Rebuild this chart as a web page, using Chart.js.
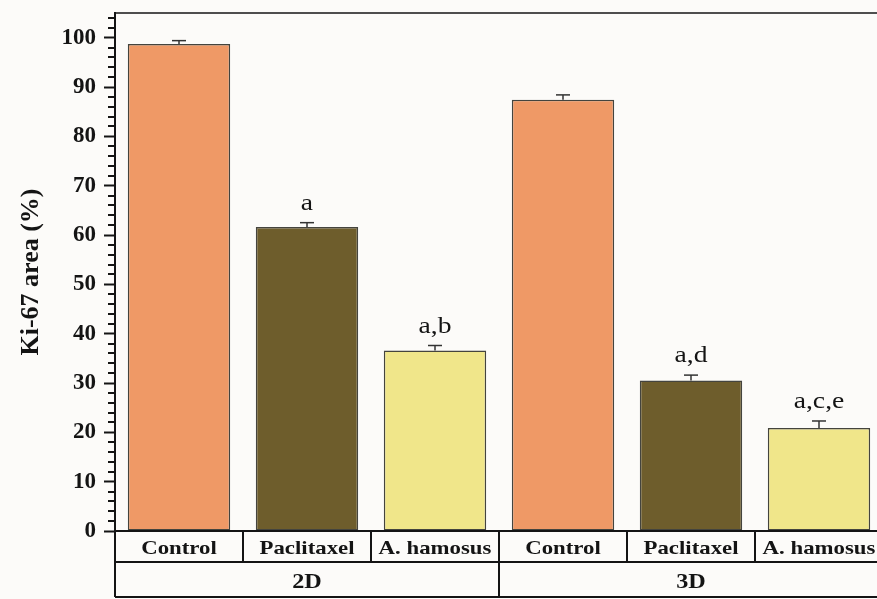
<!DOCTYPE html>
<html>
<head>
<meta charset="utf-8">
<title>Ki-67 area</title>
<script src="https://cdn.jsdelivr.net/npm/chart.js@4.4.1/dist/chart.umd.min.js"></script>
<style>
  html, body { margin: 0; padding: 0; background: #fcfbf9; overflow: hidden; }
  #marco { width: 890px; height: 599px; }
</style>
</head>
<body>
<div id="marco"><canvas id="miGrafico" width="890" height="599"></canvas></div>
<script>
// Grupos (modelo de cultivo) y tratamientos, uno por barra
var grupos = ['2D', '2D', '2D', '3D', '3D', '3D'];
var tratamientos = ['Control', 'Paclitaxel', 'A. hamosus', 'Control', 'Paclitaxel', 'A. hamosus'];

// Medias y error estándar del área Ki-67 (%)
var medias = [98.7, 61.6, 36.6, 87.4, 30.5, 20.9];
var errores = [0.7, 0.9, 1.0, 1.0, 1.1, 1.4];

// Letras de significancia sobre cada barra
var letras = ['', 'a', 'a,b', '', 'a,d', 'a,c,e'];

// Etiquetas del eje Y
var marcasY = [0, 10, 20, 30, 40, 50, 60, 70, 80, 90, 100];

var coloresTratamiento = {
  'Control': '#ef9966',
  'Paclitaxel': '#6e5d2c',
  'A. hamosus': '#f0e68a'
};

var serif = '"Liberation Serif", "Times New Roman", serif';
var tinta = '#141414';

// Texto con un ligero estiramiento horizontal
function textoAncho(ctx, texto, x, y, fuente, escala) {
  ctx.save();
  ctx.font = fuente;
  ctx.fillStyle = tinta;
  ctx.textAlign = 'center';
  ctx.textBaseline = 'alphabetic';
  ctx.translate(x, y);
  ctx.scale(escala, 1);
  ctx.fillText(texto, 0, 0);
  ctx.restore();
}

function linea(ctx, x1, y1, x2, y2) {
  ctx.beginPath();
  ctx.moveTo(x1, y1);
  ctx.lineTo(x2, y2);
  ctx.stroke();
}

// Barras de error, letras, marcas menores y marco superior
var extras = {
  id: 'extras',
  afterDatasetsDraw: function (chart) {
    var ctx = chart.ctx;
    var ca = chart.chartArea;
    var ejeX = chart.scales.x;
    var ejeY = chart.scales.y;

    ctx.save();
    ctx.strokeStyle = '#333';
    ctx.lineWidth = 1.5;
    for (var i = 0; i < medias.length; i++) {
      var cx = ejeX.getPixelForValue(i);
      var yMedia = ejeY.getPixelForValue(medias[i]);
      var ySup = ejeY.getPixelForValue(medias[i] + errores[i]);
      linea(ctx, cx, yMedia, cx, ySup);
      linea(ctx, cx - 7, ySup, cx + 7, ySup);
      if (letras[i]) {
        textoAncho(ctx, letras[i], cx, ySup - 13, '24px ' + serif, 1.15);
      }
    }

    // marcas menores cada 2 unidades
    ctx.strokeStyle = tinta;
    ctx.lineWidth = 2;
    for (var v = 0; v <= ejeY.max; v += 2) {
      if (v % 10 === 0) continue;
      var py = Math.round(ejeY.getPixelForValue(v));
      linea(ctx, ca.left - 7, py, ca.left, py);
    }

    // marco superior
    ctx.lineWidth = 1.5;
    linea(ctx, ca.left, ca.top, ca.right, ca.top);
    linea(ctx, ca.right, ca.top, ca.right, ca.bottom);
    ctx.restore();
  },
  afterDraw: function (chart) {
    // tabla de categorías bajo el eje X
    var ctx = chart.ctx;
    var ca = chart.chartArea;
    var ejeX = chart.scales.x;
    var y0 = ca.bottom, y1 = ca.bottom + 31, y2 = ca.bottom + 66;

    ctx.save();
    ctx.strokeStyle = tinta;
    ctx.lineWidth = 2;
    linea(ctx, ca.left - 1, y0, ca.right, y0);
    linea(ctx, ca.left, y1, ca.right, y1);
    linea(ctx, ca.left, y2, ca.right, y2);
    linea(ctx, ca.left, y0, ca.left, y2);
    linea(ctx, ca.right, y0, ca.right, y2);

    var inicioGrupo = 0;
    for (var i = 0; i < tratamientos.length; i++) {
      var cx = ejeX.getPixelForValue(i);
      textoAncho(ctx, tratamientos[i], cx, (y0 + y1) / 2 + 7, 'bold 19px ' + serif, 1.2);
      if (i < tratamientos.length - 1) {
        var borde = (cx + ejeX.getPixelForValue(i + 1)) / 2;
        linea(ctx, borde, y0, borde, y1);
      }
      var fin = i === tratamientos.length - 1 || grupos[i + 1] !== grupos[i];
      if (fin) {
        var izq = ejeX.getPixelForValue(inicioGrupo) - (ejeX.getPixelForValue(1) - ejeX.getPixelForValue(0)) / 2;
        var der = i === tratamientos.length - 1 ? ca.right : (cx + ejeX.getPixelForValue(i + 1)) / 2;
        textoAncho(ctx, grupos[i], (izq + der) / 2, (y1 + y2) / 2 + 8, 'bold 22px ' + serif, 1.1);
        if (i < tratamientos.length - 1) linea(ctx, der, y1, der, y2);
        inicioGrupo = i + 1;
      }
    }
    ctx.restore();
  }
};

var lienzo = document.getElementById('miGrafico').getContext('2d');

new Chart(lienzo, {
  type: 'bar',
  data: {
    labels: tratamientos,
    datasets: [{
      label: 'Ki-67 area (%)',
      data: medias,
      backgroundColor: tratamientos.map(function (t) { return coloresTratamiento[t]; }),
      borderColor: '#44443e',
      borderWidth: 1.5,
      borderSkipped: false,
      barPercentage: 0.8,
      categoryPercentage: 1.0
    }]
  },
  options: {
    responsive: false,
    animation: false,
    layout: { padding: { top: 13, right: 7, bottom: 68, left: 0 } },
    plugins: {
      legend: { display: false },
      tooltip: { enabled: false }
    },
    scales: {
      x: {
        display: false,
        offset: true
      },
      y: {
        min: 0,
        max: 105,
        afterBuildTicks: function (escala) {
          escala.ticks = marcasY.map(function (v) { return { value: v }; });
        },
        afterFit: function (escala) {
          escala.width = 115;
          escala.paddingTop = 0;
          escala.paddingBottom = 0;
        },
        ticks: {
          color: tinta,
          padding: 8,
          font: { family: serif, weight: 'bold', size: 23 }
        },
        grid: {
          drawOnChartArea: false,
          drawTicks: true,
          tickLength: 11,
          tickWidth: 2,
          tickColor: tinta
        },
        border: { color: tinta, width: 2 },
        title: {
          display: true,
          text: 'Ki-67 area (%)',
          color: tinta,
          font: { family: serif, weight: 'bold', size: 26 },
          padding: { top: 16, bottom: 0 }
        }
      }
    }
  },
  plugins: [extras]
});
</script>
</body>
</html>
